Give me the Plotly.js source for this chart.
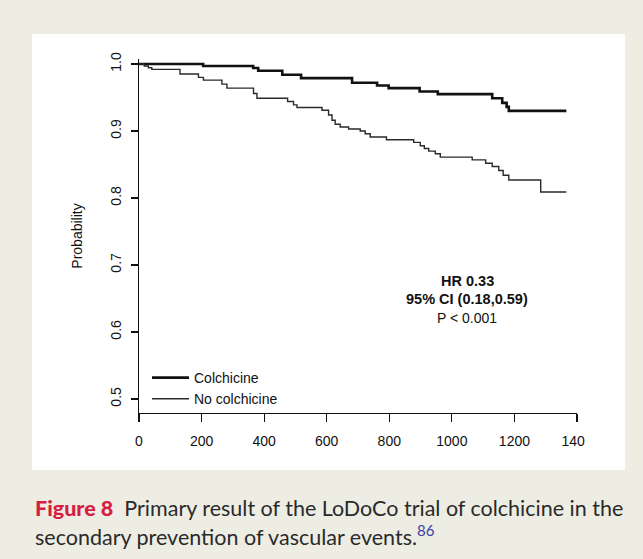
<!DOCTYPE html>
<html>
<head>
<meta charset="utf-8">
<script src="https://cdn.plot.ly/plotly-3.0.1.min.js"></script>
<style>html,body{margin:0;padding:0;background:#EEEDE3;}</style>
</head>
<body>
<div id="chart" style="width:643px;height:559px;"></div>
<script>
// Kaplan-Meier step data (days, survival probability)
var colchicineDays = [0, 205, 365, 381, 458, 518, 681, 761, 798, 897, 955, 1129, 1161, 1175, 1182, 1366];
var colchicineProb = [1.000, 0.997, 0.994, 0.990, 0.984, 0.979, 0.972, 0.968, 0.964, 0.959, 0.955, 0.949, 0.942, 0.936, 0.930, 0.930];

var noColchicineDays = [0, 17, 30, 41, 131, 190, 206, 265, 281, 366, 377, 475, 494, 505, 585, 606, 617, 627, 643, 670, 707, 723, 739, 791, 878, 899, 912, 926, 947, 963, 1065, 1108, 1129, 1150, 1164, 1182, 1284, 1366];
var noColchicineProb = [1.000, 0.997, 0.9945, 0.992, 0.985, 0.980, 0.976, 0.970, 0.964, 0.956, 0.949, 0.944, 0.939, 0.935, 0.931, 0.924, 0.916, 0.910, 0.906, 0.903, 0.900, 0.896, 0.891, 0.887, 0.883, 0.878, 0.874, 0.870, 0.866, 0.861, 0.857, 0.852, 0.847, 0.841, 0.834, 0.827, 0.809, 0.809];

var seriesNames = ["Colchicine", "No colchicine"];
var xTickVals = [0, 200, 400, 600, 800, 1000, 1200, 1400];
var xTickText = ["0", "200", "400", "600", "800", "1000", "1200", "140\u2007"];
var yTickVals = [0.5, 0.6, 0.7, 0.8, 0.9, 1.0];
var yTickText = ["0.5", "0.6", "0.7", "0.8", "0.9", "1.0"];
var statsLines = ["<b>HR 0.33</b>", "<b>95% CI (0.18,0.59)</b>", "P < 0.001"];

var F = "Liberation Sans, Arial, sans-serif";
var CF = "Lato, Open Sans, sans-serif";
var W = 643, H = 559;
var L = 139, R = 66, T = 59, B = 146;
var pw = W - L - R, ph = H - T - B;
function px(x) { return (x - L) / pw; }
function py(y) { return (H - B - y) / ph; }

var traces = [
  { x: colchicineDays, y: colchicineProb, name: seriesNames[0], type: "scatter", mode: "lines",
    line: { shape: "hv", color: "#111", width: 2.6 } },
  { x: noColchicineDays, y: noColchicineProb, name: seriesNames[1], type: "scatter", mode: "lines",
    line: { shape: "hv", color: "#2a2a2a", width: 1.4 } }
];

var annotations = [];
var statY = [281, 299, 318];
var statSize = [14.5, 14.5, 14];
for (var i = 0; i < statsLines.length; i++) {
  annotations.push({ xref: "paper", yref: "paper", x: px(467), y: py(statY[i]), xanchor: "center", yanchor: "middle",
    text: statsLines[i], showarrow: false, font: { family: F, size: statSize[i], color: "#111" } });
}
annotations.push({ xref: "paper", yref: "paper", x: px(33), y: py(508), xanchor: "left", yanchor: "middle",
  text: "<span style='color:#D41F43;font-weight:900'>Figure 8</span>  Primary result of the LoDoCo trial of colchicine in the",
  showarrow: false, font: { family: CF, size: 21.5, color: "#2a2a2a" } });
annotations.push({ xref: "paper", yref: "paper", x: px(33), y: py(535), xanchor: "left", yanchor: "middle",
  text: "secondary prevention of vascular events.<sup><span style='color:#3B3FA8'>86</span></sup>",
  showarrow: false, font: { family: CF, size: 21.5, color: "#2a2a2a" } });

var layout = {
  width: W, height: H,
  margin: { l: L, r: R, t: T, b: B, pad: 0 },
  paper_bgcolor: "#EEEDE3",
  plot_bgcolor: "rgba(0,0,0,0)",
  showlegend: true,
  legend: { x: px(147), y: py(362), xanchor: "left", yanchor: "top", bgcolor: "rgba(0,0,0,0)",
    font: { family: F, size: 14, color: "#111" }, tracegroupgap: 0, itemwidth: 37 },
  xaxis: {
    range: [0, 1400], tickvals: xTickVals, ticktext: xTickText,
    showgrid: false, zeroline: false, showline: true, linecolor: "#111", linewidth: 1.2,
    ticks: "outside", ticklen: 8, tickwidth: 1.2, tickcolor: "#111", ticklabelstandoff: 7,
    tickfont: { family: F, size: 14, color: "#111" }
  },
  yaxis: {
    range: [0.4791, 1.0075], tickvals: yTickVals, ticktext: yTickText,
    showgrid: false, zeroline: false, showline: true, linecolor: "#111", linewidth: 1.2,
    ticks: "outside", ticklen: 7, tickwidth: 1.2, tickcolor: "#111", tickangle: -90, ticklabelstandoff: 4,
    tickfont: { family: F, size: 14, color: "#111" },
    title: { text: "Probability", font: { family: F, size: 14, color: "#111" }, standoff: 22 }
  },
  shapes: [
    { type: "rect", xref: "paper", yref: "paper", x0: px(32), x1: px(625), y0: py(470), y1: py(34),
      fillcolor: "#FFFFFF", line: { width: 0 }, layer: "below" }
  ],
  annotations: annotations
};

Plotly.newPlot("chart", traces, layout, { displayModeBar: false, staticPlot: true });
</script>
</body>
</html>
